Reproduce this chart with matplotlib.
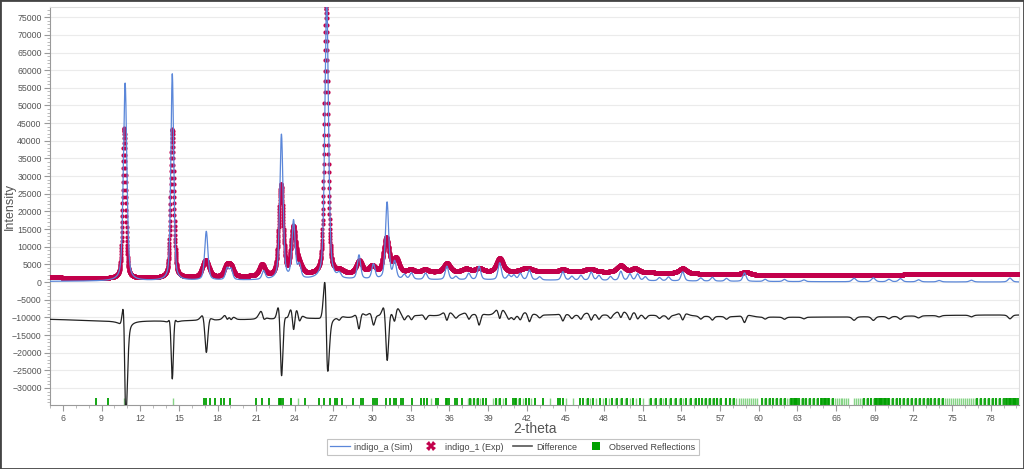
import numpy as np
import matplotlib
matplotlib.use("Agg")
import matplotlib.pyplot as plt
from matplotlib.lines import Line2D
from matplotlib.patches import Rectangle
from matplotlib.ticker import MultipleLocator

plt.rcParams['font.family'] = ['Liberation Sans', 'DejaVu Sans']

# ---------------- data ----------------
# simulated pattern (indigo_a): peak position, peak height, FWHM
sim_pos = [10.83, 14.49, 17.13, 18.75, 19.05, 21.58, 22.96, 23.90, 24.35, 26.47,
           27.45, 28.98, 30.10, 31.16, 31.75, 32.50, 33.05, 34.15, 35.80, 36.50,
           37.50, 38.30, 39.90, 40.60, 41.00, 41.50, 42.20, 43.00, 44.80, 45.50,
           46.20, 47.00, 47.60, 48.50, 49.30, 50.00, 50.60, 51.20, 52.30, 53.00,
           54.10, 55.50, 56.40, 57.50, 58.90, 60.50, 62.00, 63.50, 67.40, 68.90,
           70.10, 71.00, 72.40, 74.00, 76.50, 79.50]
sim_height = [56000, 58500, 13800, 3200, 3000, 2400, 41000, 16300, 3800, 80000,
              1300, 6800, 4200, 21800, 4800, 1300, 1800, 1800, 3800, 900,
              1800, 3800, 4800, 1300, 1300, 1800, 2800, 900, 2400, 1100,
              1400, 2300, 1400, 1100, 2600, 1900, 1900, 1100, 900, 1100,
              2600, 900, 1100, 800, 2400, 600, 600, 500, 1000, 1100,
              700, 900, 600, 400, 500, 1100]
sim_fwhm = [0.32, 0.26, 0.30, 0.30, 0.30, 0.30, 0.30, 0.30, 0.30, 0.33,
            0.30, 0.30, 0.30, 0.30, 0.30, 0.30, 0.30, 0.30, 0.30, 0.30,
            0.30, 0.30, 0.30, 0.30, 0.30, 0.30, 0.30, 0.30, 0.30, 0.30,
            0.30, 0.30, 0.30, 0.30, 0.30, 0.30, 0.30, 0.30, 0.30, 0.30,
            0.30, 0.30, 0.30, 0.30, 0.30, 0.30, 0.30, 0.30, 0.35, 0.35,
            0.35, 0.35, 0.35, 0.35, 0.35, 0.35]
# broad background humps of the simulated pattern: centre, height, FWHM
sim_bg_pos = [32.0]
sim_bg_height = [650]
sim_bg_fwhm = [40.0]

# experimental pattern (indigo_1): peak position, peak height, FWHM
exp_pos = [10.76, 14.49, 17.08, 18.70, 19.05, 21.45, 22.93, 23.88, 24.30, 26.43,
           27.50, 29.00, 30.00, 31.10, 31.85, 33.00, 34.10, 35.80, 37.30, 38.30,
           39.90, 42.00, 44.80, 46.90, 49.30, 50.40, 54.10, 59.00]
exp_height = [42500, 42000, 4800, 3000, 2800, 3200, 25500, 12800, 3000, 76000,
              800, 3500, 2000, 9800, 4000, 800, 800, 2500, 900, 1000,
              3900, 1100, 700, 900, 1900, 1100, 1400, 800]
exp_fwhm = [0.28, 0.30, 0.60, 0.45, 0.45, 0.50, 0.40, 0.42, 0.55, 0.33,
            0.60, 0.55, 0.60, 0.50, 0.55, 0.60, 0.60, 0.60, 0.70, 0.70,
            0.60, 1.00, 0.70, 0.90, 0.70, 0.70, 0.70, 0.80]
# broad background humps of the experimental pattern: centre, height, FWHM
exp_bg_level = 800
exp_bg_pos = [4.0, 38.0, 52.0, 80.0]
exp_bg_height = [500, 2000, 600, 1600]
exp_bg_fwhm = [6.0, 30.0, 15.0, 30.0]

diff_offset = -11700

# observed reflection positions (2-theta)
refl_dark = [8.6, 9.49, 16.95, 17.1, 17.4, 17.83, 18.3, 18.5, 18.97, 20.98, 21.45, 22.0,
             22.75, 22.85, 22.95, 23.05, 23.72, 24.76, 25.9, 26.3, 26.72, 27.13, 27.24,
             27.65, 28.53, 29.1, 29.26, 30.05, 30.2, 30.39, 31.11, 31.37, 31.68, 31.89,
             32.27, 32.4, 33.13, 33.83, 34.01, 34.26, 34.99, 35.12, 35.71, 35.84, 35.97,
             36.41, 36.59, 37.0, 37.57, 37.88, 38.22, 38.61, 38.86, 39.59, 39.95, 40.36,
             40.93, 41.06, 41.19, 41.45, 41.91, 42.17, 42.61, 43.26, 44.42, 44.6, 44.81,
             46.15, 46.36, 46.75, 47.13, 47.65, 48.17, 48.63, 48.99, 49.41, 49.77,
             50.23, 50.75, 51.65, 52.04, 52.43, 52.82, 53.2, 53.59, 53.98, 54.37,
             54.76, 55.14, 55.35, 55.62, 55.92, 56.2, 56.5, 56.8, 57.1, 57.5, 57.8,
             58.1, 60.25, 60.55, 60.84, 61.14, 61.45, 61.75, 62.05, 62.5, 62.6, 62.7,
             62.8, 62.9, 63.0, 63.1, 63.4, 63.7, 64.0, 64.3, 64.6, 64.85, 64.95, 65.05,
             65.15, 65.25, 65.35, 65.45, 65.75, 68.15, 68.45, 68.75, 69.0, 69.1, 69.2,
             69.3, 69.4, 69.5, 69.6, 69.7, 69.8, 69.9, 70.0, 70.1, 70.4, 70.7, 71.0,
             71.3, 71.6, 71.9, 72.2, 72.5, 72.8, 73.1, 73.4, 73.7, 74.0, 74.3, 76.95,
             77.25, 77.55, 77.85, 78.15, 78.45, 78.75, 79.05, 79.2, 79.3, 79.4, 79.5,
             79.6, 79.7, 79.8, 79.9, 80.0, 80.1]
refl_light = [10.75, 14.57, 24.27, 34.6, 37.44, 37.7, 38.04, 38.4, 39.38, 39.77, 40.16,
              41.32, 41.71, 42.35, 43.77, 45.01, 45.58, 46.56, 46.93, 47.39, 47.91,
              48.42, 48.81, 49.2, 49.59, 49.98, 50.49, 51.01, 51.47, 51.84, 52.25,
              52.61, 53.02, 53.39, 53.8, 54.16, 54.57, 54.94, 55.78, 56.05, 56.36,
              56.66, 56.95, 57.35, 57.66, 57.95, 58.25, 58.5, 58.66, 58.8, 58.95,
              59.1, 59.26, 59.4, 59.55, 59.7, 59.85, 60.4, 60.7, 61.0, 61.3, 61.6,
              61.9, 62.2, 62.33, 63.25, 63.55, 63.85, 64.15, 64.45, 65.6, 65.9, 66.05,
              66.2, 66.35, 66.5, 66.65, 66.8, 66.95, 67.4, 67.55, 67.7, 67.85, 68.0,
              68.3, 68.6, 68.9, 70.25, 70.55, 70.85, 71.15, 71.45, 71.75, 72.05,
              72.35, 72.65, 72.95, 73.25, 73.55, 73.85, 74.15, 74.45, 74.65, 74.8,
              74.95, 75.1, 75.25, 75.4, 75.55, 75.7, 75.85, 76.0, 76.15, 76.3, 76.45,
              76.6, 76.75, 77.1, 77.4, 77.7, 78.0, 78.3, 78.6, 78.9]

x_ticks = [6, 9, 12, 15, 18, 21, 24, 27, 30, 33, 36, 39, 42, 45, 48, 51, 54, 57, 60,
           63, 66, 69, 72, 75, 78]
y_ticks = list(range(-30000, 75001, 5000))
x_min, x_max = 5.0, 80.2
y_min, y_max = -34900, 77800

# ---------------- profile building ----------------
tt = np.arange(x_min, x_max + 0.005, 0.01)


def pv(x, pos, h, w, eta=0.5):
    g = np.exp(-4 * np.log(2) * ((x - pos) / w) ** 2)
    lz = 1.0 / (1.0 + 4 * ((x - pos) / w) ** 2)
    return h * (eta * lz + (1 - eta) * g)


def gauss(x, pos, h, w):
    return h * np.exp(-4 * np.log(2) * ((x - pos) / w) ** 2)


sim = np.zeros_like(tt)
for p, h, w in zip(sim_pos, sim_height, sim_fwhm):
    sim += pv(tt, p, h, w, 0.45)
for p, h, w in zip(sim_bg_pos, sim_bg_height, sim_bg_fwhm):
    sim += gauss(tt, p, h, w)

exp_ = np.full_like(tt, exp_bg_level, dtype=float)
for p, h, w in zip(exp_pos, exp_height, exp_fwhm):
    exp_ += pv(tt, p, h, w, 0.4)
for p, h, w in zip(exp_bg_pos, exp_bg_height, exp_bg_fwhm):
    exp_ += gauss(tt, p, h, w)

diff = exp_ - sim + diff_offset

# ---------------- drawing ----------------
W, H = 1024, 469
fig = plt.figure(figsize=(W / 100, H / 100), dpi=100)
ax = fig.add_axes([50 / W, 1 - 405.3 / H, 969 / W, (405.3 - 7.3) / H])

ax.set_xlim(x_min, x_max)
ax.set_ylim(y_min, y_max)
ax.set_yticks(y_ticks)
ax.set_xticks(x_ticks)
ax.xaxis.set_minor_locator(MultipleLocator(1))
ax.yaxis.set_minor_locator(MultipleLocator(1000))
ax.grid(axis='y', color='#ebebeb', lw=0.8)
ax.set_axisbelow(True)

sim_color = '#5b87d9'
exp_color = '#c2004b'
diff_color = '#222222'

ax.plot(tt, diff, color=diff_color, lw=0.9, zorder=3)
ax.plot(tt, exp_, linestyle='none', marker='o', ms=3.0, mew=0,
        color=exp_color, zorder=4)
ax.plot(tt, sim, color=sim_color, lw=0.9, zorder=5)

bar_top = -32800
ax.vlines(refl_light, y_min, bar_top, color='#86d486', lw=1.0, zorder=2)
ax.vlines(refl_dark, y_min, bar_top, color='#00a000', lw=1.3, zorder=2)

for s in ['left', 'bottom']:
    ax.spines[s].set_color('#9a9a9a')
for s in ['top', 'right']:
    ax.spines[s].set_color('#dddddd')
ax.tick_params(axis='both', which='major', labelsize=6.3, colors='#9a9a9a',
               labelcolor='#555555', length=4, width=0.8, pad=2)
ax.tick_params(axis='both', which='minor', colors='#b0b0b0', length=2, width=0.6)

fig.text(10 / W, 1 - 206 / H, 'Intensity', rotation=90, ha='center', va='center',
         fontsize=9, color='#555555')
fig.text(535 / W, 1 - 429 / H, '2-theta', ha='center', va='center',
         fontsize=10, color='#555555')

handles = [
    Line2D([], [], color=sim_color, lw=0.9),
    Line2D([], [], linestyle='none', marker='X', ms=7, mew=0, color=exp_color),
    Line2D([], [], color='#555555', lw=1.2),
    Line2D([], [], linestyle='none', marker='s', ms=6, mew=0, color='#00a000'),
]
labels = ['indigo_a (Sim)', 'indigo_1 (Exp)', 'Difference', 'Observed Reflections']
leg = fig.legend(handles, labels, loc='center', bbox_to_anchor=(513 / W, 1 - 447 / H),
                 ncol=4, fontsize=6.5, frameon=True, fancybox=False, edgecolor='#b5b5b5',
                 handlelength=2.2, handletextpad=0.4, columnspacing=1.0, borderpad=0.35)
leg.get_frame().set_linewidth(0.8)
for t in leg.get_texts():
    t.set_color('#444444')

fig.add_artist(Rectangle((0, 0), 1, 1, transform=fig.transFigure, fill=False,
                         edgecolor='#444444', lw=2.0))

fig.savefig('out.png', dpi=100)
